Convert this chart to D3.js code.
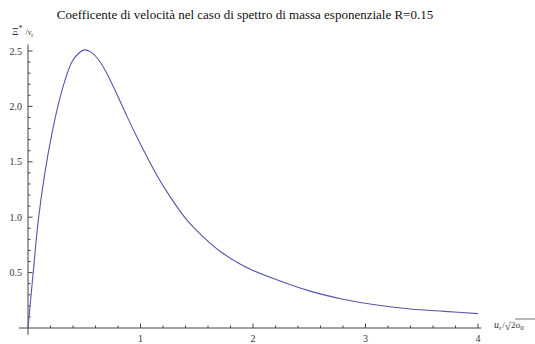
<!DOCTYPE html>
<html>
<head>
<meta charset="utf-8">
<script src="https://cdn.jsdelivr.net/npm/d3@7"></script>
<style>
  html, body { margin: 0; padding: 0; background: #fff; }
  svg { display: block; }
  svg text { font-family: "Liberation Serif", "DejaVu Serif", serif; }
</style>
</head>
<body>
<svg id="chart" width="535" height="344"></svg>
<script>
// Velocity coefficient Ξ*/ν_r against u_r/√(2σ0), exponential mass spectrum, R = 0.15
const xValues = [0, 0.05, 0.09, 0.15, 0.21, 0.27, 0.33, 0.39, 0.45, 0.50, 0.56, 0.62, 0.70, 0.79, 0.88, 0.97, 1.06, 1.15, 1.26, 1.40, 1.56, 1.71, 1.88, 2.0, 2.2, 2.5, 2.8, 3.1, 3.4, 3.7, 4.0];
const yValues = [0, 0.54, 0.96, 1.40, 1.74, 2.02, 2.24, 2.40, 2.48, 2.51, 2.49, 2.43, 2.30, 2.11, 1.91, 1.72, 1.54, 1.37, 1.19, 0.99, 0.82, 0.69, 0.58, 0.52, 0.44, 0.335, 0.26, 0.207, 0.172, 0.15, 0.13];

const xMajorTicks = [1, 2, 3, 4];
const yMajorTicks = [0.5, 1.0, 1.5, 2.0, 2.5];
const xTickLabels = ["1", "2", "3", "4"];
const yTickLabels = ["0.5", "1.0", "1.5", "2.0", "2.5"];
const xMinorTicks = d3.range(1, 20).map(i => i * 0.2).filter(v => Math.abs(v - Math.round(v)) > 1e-6);
const yMinorTicks = d3.range(1, 26).map(i => i * 0.1).filter(v => Math.abs(v * 2 - Math.round(v * 2)) > 1e-6);

const titleText = "Coefficente di velocità nel caso di spettro di massa esponenziale R=0.15";

const svg = d3.select("#chart");
const x = d3.scaleLinear().domain([0, 4]).range([28, 478]);
const y = d3.scaleLinear().domain([0, 2.5]).range([328, 51]);

const axisColor = "#444";

// axis lines, extended a little past the origin
svg.append("line")
  .attr("x1", x(-0.08)).attr("x2", x(4.03))
  .attr("y1", y(0)).attr("y2", y(0))
  .attr("stroke", axisColor).attr("stroke-width", 1);
svg.append("line")
  .attr("x1", x(0)).attr("x2", x(0))
  .attr("y1", y(-0.06)).attr("y2", y(2.56))
  .attr("stroke", axisColor).attr("stroke-width", 1);

// x ticks point upward from the axis
svg.selectAll(".xmajor").data(xMajorTicks).enter().append("line")
  .attr("x1", d => x(d)).attr("x2", d => x(d))
  .attr("y1", y(0)).attr("y2", y(0) - 4.5)
  .attr("stroke", axisColor);
svg.selectAll(".xminor").data(xMinorTicks).enter().append("line")
  .attr("x1", d => x(d)).attr("x2", d => x(d))
  .attr("y1", y(0)).attr("y2", y(0) - 2.5)
  .attr("stroke", axisColor);

// y ticks point right from the axis
svg.selectAll(".ymajor").data(yMajorTicks).enter().append("line")
  .attr("x1", x(0)).attr("x2", x(0) + 4.5)
  .attr("y1", d => y(d)).attr("y2", d => y(d))
  .attr("stroke", axisColor);
svg.selectAll(".yminor").data(yMinorTicks).enter().append("line")
  .attr("x1", x(0)).attr("x2", x(0) + 2.5)
  .attr("y1", d => y(d)).attr("y2", d => y(d))
  .attr("stroke", axisColor);

// tick labels
svg.selectAll(".xlab").data(xMajorTicks).enter().append("text")
  .attr("x", d => x(d)).attr("y", y(0) + 14)
  .attr("text-anchor", "middle")
  .attr("font-size", 10).attr("fill", "#333")
  .text((d, i) => xTickLabels[i]);
svg.selectAll(".ylab").data(yMajorTicks).enter().append("text")
  .attr("x", x(0) - 6).attr("y", d => y(d) + 3.5)
  .attr("text-anchor", "end")
  .attr("font-size", 10).attr("fill", "#333")
  .text((d, i) => yTickLabels[i]);

// curve
const line = d3.line()
  .x((d, i) => x(xValues[i]))
  .y((d, i) => y(yValues[i]))
  .curve(d3.curveCatmullRom.alpha(0.5));
svg.append("path")
  .datum(yValues)
  .attr("d", line)
  .attr("fill", "none")
  .attr("stroke", "#5656ab")
  .attr("stroke-width", 1.1);

// title
svg.append("text")
  .attr("x", 245).attr("y", 19)
  .attr("text-anchor", "middle")
  .attr("font-size", 13).attr("fill", "#111")
  .text(titleText);

// y axis label: Ξ* / ν_r
const yl = svg.append("text")
  .attr("x", 12).attr("y", 35).attr("fill", "#333").attr("font-size", 10);
yl.append("tspan").text("Ξ");
yl.append("tspan").attr("font-size", 8).attr("dy", -4).text("*");
yl.append("tspan").attr("font-size", 8).attr("dy", 4).attr("dx", 3).text("/ν");
yl.append("tspan").attr("font-size", 6).attr("dy", 2).text("r");

// x axis label: u_r / √(2σ0)
const xl = svg.append("text")
  .attr("x", 494).attr("y", 328).attr("fill", "#333").attr("font-size", 10);
xl.append("tspan").attr("font-style", "italic").text("u");
xl.append("tspan").attr("font-size", 7).attr("dy", 2).text("r");
xl.append("tspan").attr("font-size", 9).attr("dy", -2).attr("dx", 1).text("/");
xl.append("tspan").attr("font-size", 11).attr("dy", 2).text("√");
xl.append("tspan").attr("font-size", 9).attr("dy", -2).text("2σ");
xl.append("tspan").attr("font-size", 7).attr("dy", 2).text("0");
svg.append("line")
  .attr("x1", 515).attr("x2", 535)
  .attr("y1", 319).attr("y2", 319)
  .attr("stroke", "#333").attr("stroke-width", 0.7);
</script>
</body>
</html>
